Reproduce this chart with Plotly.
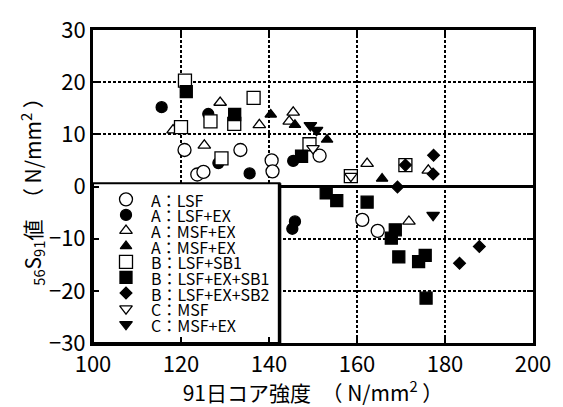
import plotly.graph_objects as go

# 91-day core strength (N/mm2) and 56S91 value (N/mm2) per mix group
a_lsf_x = [120.8, 123.7, 125.1, 133.5, 140.6, 140.8, 151.5, 161.2, 164.7]
a_lsf_y = [7.0, 2.3, 2.8, 7.0, 5.0, 2.9, 5.9, -6.4, -8.5]

a_lsf_ex_x = [115.6, 126.2, 128.5, 135.6, 145.5, 145.9, 145.3]
a_lsf_ex_y = [15.2, 13.9, 4.5, 2.5, 4.9, -6.7, -8.1]

a_msf_ex_open_x = [128.9, 118.2, 125.3, 137.8, 145.5, 144.6, 162.3, 176.2, 171.8]
a_msf_ex_open_y = [16.1, 10.8, 7.9, 11.8, 14.2, 12.5, 4.4, 3.1, -6.7]

a_msf_ex_x = [140.4, 145.9, 153.2, 165.7]
a_msf_ex_y = [13.8, 11.8, 9.0, 1.5]

b_lsf_sb1_x = [120.9, 120.0, 126.7, 129.2, 132.1, 136.5, 149.2, 158.6, 171.0]
b_lsf_sb1_y = [20.3, 11.4, 12.5, 5.4, 12.0, 17.0, 8.1, 2.0, 4.1]

b_lsf_ex_sb1_x = [121.2, 132.2, 147.4, 153.0, 155.4, 162.3, 168.7, 167.8, 169.5, 174.0, 175.5, 175.7]
b_lsf_ex_sb1_y = [18.2, 13.8, 5.8, -1.2, -2.7, -3.0, -8.3, -9.9, -13.5, -14.4, -13.2, -21.4]

b_lsf_ex_sb2_x = [171.0, 177.4, 177.3, 169.2, 187.8, 183.3]
b_lsf_ex_sb2_y = [4.1, 6.0, 2.4, -0.1, -11.5, -14.7]

c_msf_x = [150.0, 158.6]
c_msf_y = [7.3, 2.0]

c_msf_ex_x = [149.4, 150.8, 177.3]
c_msf_ex_y = [11.7, 10.8, -5.5]

labels = ["A：LSF", "A：LSF+EX", "A：MSF+EX", "A：MSF+EX", "B：LSF+SB1",
          "B：LSF+EX+SB1", "B：LSF+EX+SB2", "C：MSF", "C：MSF+EX"]

x_ticks = [100, 120, 140, 160, 180, 200]
y_ticks = [-30, -20, -10, 0, 10, 20, 30]

FONT = "Noto Sans CJK JP"

# symbol, filled?, size
styles = [
    ("circle", False, 13),
    ("circle", True, 11),
    ("triangle-up", False, 11),
    ("triangle-up", True, 10),
    ("square", False, 13),
    ("square", True, 12),
    ("diamond", True, 9),
    ("triangle-down", False, 11),
    ("triangle-down", True, 11),
]
series = [
    (a_lsf_x, a_lsf_y), (a_lsf_ex_x, a_lsf_ex_y),
    (a_msf_ex_open_x, a_msf_ex_open_y), (a_msf_ex_x, a_msf_ex_y),
    (b_lsf_sb1_x, b_lsf_sb1_y), (b_lsf_ex_sb1_x, b_lsf_ex_sb1_y),
    (b_lsf_ex_sb2_x, b_lsf_ex_sb2_y), (c_msf_x, c_msf_y), (c_msf_ex_x, c_msf_ex_y),
]


def marker(sym, filled, size):
    return dict(symbol=sym, size=size, color="black" if filled else "white",
                line=dict(color="black", width=1.3))


fig = go.Figure()
for (xs, ys), (sym, filled, size), name in zip(series, styles, labels):
    fig.add_trace(go.Scatter(x=xs, y=ys, mode="markers", name=name,
                             marker=marker(sym, filled, size), showlegend=False))

# Legend panel on an overlay axis pair spanning the plot area (0..1)
box_w, box_h = 0.424, 0.51
fig.add_trace(go.Scatter(x=[0, box_w, box_w, 0, 0], y=[0, 0, box_h, box_h, 0],
                         mode="lines", fill="toself", fillcolor="white",
                         line=dict(color="black", width=2),
                         xaxis="x2", yaxis="y2", showlegend=False, hoverinfo="skip"))
# heavier right edge of the panel
fig.add_trace(go.Scatter(x=[box_w, box_w], y=[0, box_h], mode="lines",
                         line=dict(color="black", width=3.5),
                         xaxis="x2", yaxis="y2", showlegend=False, hoverinfo="skip"))
row_top, row_step = 0.459, 0.0499
key_x, text_x = 0.075, 0.13
for i, ((sym, filled, size), name) in enumerate(zip(styles, labels)):
    ry = row_top - i * row_step
    fig.add_trace(go.Scatter(x=[key_x], y=[ry], mode="markers",
                             marker=marker(sym, filled, size),
                             xaxis="x2", yaxis="y2", showlegend=False, hoverinfo="skip"))
    fig.add_annotation(x=text_x, y=ry, xref="x2", yref="y2", text=name,
                       showarrow=False, xanchor="left", yanchor="middle",
                       height=15, valign="middle", borderpad=0,
                       font=dict(family=FONT, size=16, color="black"))

axis_common = dict(showline=True, linecolor="black", linewidth=3, mirror="ticks",
                   ticks="inside", ticklen=6, tickwidth=2, tickcolor="black",
                   showgrid=True, gridcolor="black", gridwidth=2, griddash="3px,2px",
                   ticklabeloverflow="allow",
                   tickfont=dict(family=FONT, size=22, color="black"))

fig.update_layout(
    width=563, height=407,
    margin=dict(l=93, r=25, t=15, b=59),
    plot_bgcolor="white", paper_bgcolor="white",
    font=dict(family=FONT, color="black"),
    xaxis=dict(range=[100, 200], tickvals=x_ticks, zeroline=False,
               title=dict(text="91日コア強度　（ N/mm<sup>2</sup> ）",
                          font=dict(family=FONT, size=21), standoff=2),
               **axis_common),
    yaxis=dict(range=[-30, 30], tickvals=y_ticks, zeroline=True,
               zerolinecolor="black", zerolinewidth=3,
               title=dict(text="<sub>56</sub>S<sub>91</sub>値　（ N/mm<sup>2</sup> ）",
                          font=dict(family=FONT, size=21), standoff=2),
               **axis_common),
    xaxis2=dict(range=[0, 1], overlaying="x", visible=False, anchor="y2"),
    yaxis2=dict(range=[0, 1], overlaying="y", visible=False, anchor="x2"),
    showlegend=False,
)

fig.write_html("out.html")
